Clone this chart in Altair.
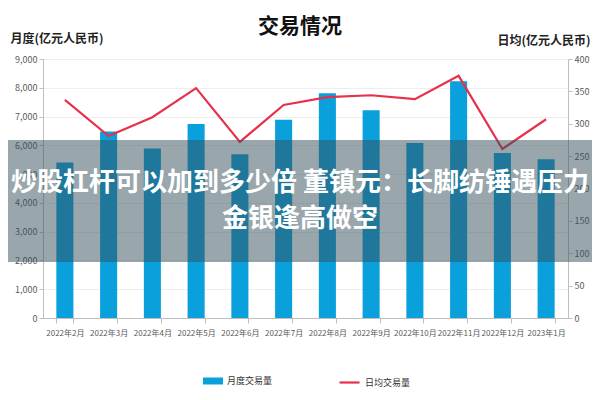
import altair as alt
import pandas as pd

months = ["2022年2月", "2022年3月", "2022年4月", "2022年5月", "2022年6月", "2022年7月",
          "2022年8月", "2022年9月", "2022年10月", "2022年11月", "2022年12月", "2023年1月"]
monthly = [5400, 6480, 5890, 6740, 5690, 6890, 7810, 7220, 6080, 8230, 5730, 5520]
daily = [337, 281, 310, 355, 272, 329, 341, 344, 338, 374, 261, 307]
bar_name = "月度交易量"
line_name = "日均交易量"
title_text = "交易情况"
left_title = "月度(亿元人民币)"
right_title = "日均(亿元人民币)"
overlay_lines = ["炒股杠杆可以加到多少倍 董镇元：长脚纺锤遇压力", "金银逢高做空"]

FONT = "Noto Sans CJK SC"
df = pd.DataFrame({"month": months, "monthly": monthly, "daily": daily,
                   "bar": bar_name, "line": line_name})

xenc = alt.X("month:N", sort=months, title=None,
             scale=alt.Scale(paddingInner=0.61, paddingOuter=0.305),
             axis=alt.Axis(labelAngle=0, labelFontSize=8, labelColor="#595959",
                           tickBand="extent", domainColor="#bfbfbf", tickColor="#bfbfbf",
                           labelPadding=6, labelFont=FONT, labelOverlap=False))

bars = alt.Chart(df).mark_bar().encode(
    x=xenc,
    y=alt.Y("monthly:Q", scale=alt.Scale(domain=[0, 9000]),
            axis=alt.Axis(title=left_title, titleAngle=0, titleAlign="left",
                          titleX=-33, titleY=-14, titleFontSize=12, titleFont=FONT,
                          titleFontWeight="bold", titleColor="#222",
                          format=",d", values=list(range(0, 9001, 1000)),
                          labelOverlap=False,
                          labelFontSize=9, labelColor="#595959", labelFont=FONT,
                          domainColor="#bfbfbf", tickColor="#bfbfbf", tickSize=4,
                          gridColor="#eeeeee")),
    color=alt.Color("bar:N", scale=alt.Scale(domain=[bar_name], range=["#0aa0dc"]),
                    legend=alt.Legend(title=None, orient="none", legendX=160, legendY=312,
                                      symbolType="M-1,-0.35L1,-0.35L1,0.35L-1,0.35Z",
                                      symbolSize=400, symbolStrokeWidth=0,
                                      labelFontSize=9, labelColor="#333", labelFont=FONT))
)

line = alt.Chart(df).mark_line(strokeWidth=2.2).encode(
    x=xenc,
    y=alt.Y("daily:Q", scale=alt.Scale(domain=[0, 400]),
            axis=alt.Axis(title=right_title, orient="right", titleAngle=0, titleAlign="right",
                          titleX=22, titleY=-12, titleFontSize=12, titleFont=FONT,
                          titleFontWeight="bold", titleColor="#222",
                          values=list(range(0, 401, 50)), grid=False, labelOverlap=False,
                          labelFontSize=9, labelColor="#595959", labelFont=FONT,
                          domainColor="#bfbfbf", tickColor="#bfbfbf", tickSize=4)),
    stroke=alt.Stroke("line:N", scale=alt.Scale(domain=[line_name], range=["#e8304a"]),
                      legend=alt.Legend(title=None, orient="none", legendX=295, legendY=312,
                                        symbolType="stroke", symbolSize=400,
                                        symbolStrokeWidth=2.2,
                                        labelFontSize=9, labelColor="#333", labelFont=FONT))
)

band = alt.Chart(pd.DataFrame({"t": [0]})).mark_rect(color="#34505a", opacity=0.5).encode(
    x=alt.value(-43), x2=alt.value(565), y=alt.value(81), y2=alt.value(203))

def text_layer(s, y, size, color, weight="bold"):
    return alt.Chart(pd.DataFrame({"t": [s]})).mark_text(
        color=color, fontSize=size, fontWeight=weight, font=FONT,
        align="center", baseline="middle"
    ).encode(text="t:N", x=alt.value(257), y=alt.value(y))

title = text_layer(title_text, -32, 21, "#111")
txt1 = text_layer(overlay_lines[0], 124, 26, "white")
txt2 = text_layer(overlay_lines[1], 160, 26, "white")

main = alt.layer(bars, line).resolve_scale(y="independent", color="independent")

chart = alt.layer(main, band, txt1, txt2, title).properties(
    width=525, height=259,
    padding={"left": 35, "top": 51, "right": 24, "bottom": 74},
    autosize=alt.AutoSizeParams(type="none"),
).configure_view(stroke=None).configure_axis(gridDash=[])

chart.save("out.html", embed_options={"renderer": "svg", "actions": False})
